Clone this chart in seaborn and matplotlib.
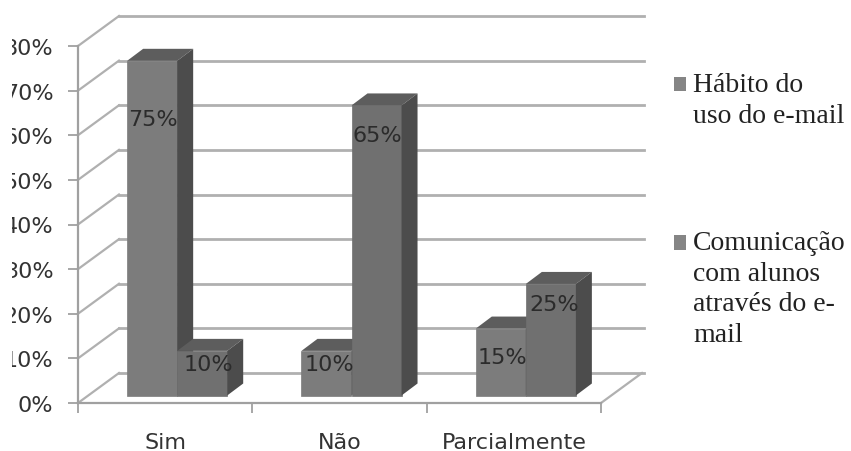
import matplotlib
matplotlib.use("Agg")
import matplotlib.pyplot as plt
import pandas as pd
import seaborn as sns
from matplotlib.patches import Polygon
from matplotlib.transforms import Bbox, IdentityTransform

categorias = ["Sim", "Não", "Parcialmente"]
habito = [75, 10, 15]
comunicacao = [10, 65, 25]
nome_habito = "Hábito do\nuso do e-mail"
nome_comunicacao = "Comunicação\ncom alunos\natravés do e-\nmail"
ticks_y = [0, 10, 20, 30, 40, 50, 60, 70, 80]

# how far each label sits below the bar top / right of its centre, in pixels
desce_rotulo = [[58, 13, 28], [13, 30, 20]]
desvio_rotulo = [[1, 3, 2], [6, 1, 3]]

W, H = 851, 452
X0, X1, Y0, Y1 = 78, 601, 404, 47
fig = plt.figure(figsize=(W / 100, H / 100), dpi=100, facecolor="white")
ax = fig.add_axes([X0 / W, 1 - Y0 / H, (X1 - X0) / W, (Y0 - Y1) / H])

px_x = (X1 - X0) / 3
px_y = (Y0 - Y1) / 80


def dx(p):
    return p / px_x


def dy(p):
    return p / px_y


df = pd.DataFrame({
    "categoria": categorias * 2,
    "valor": habito + comunicacao,
    "serie": [nome_habito] * 3 + [nome_comunicacao] * 3,
})
cor_frente = ["#7c7c7c", "#707070"]
sns.barplot(data=df, x="categoria", y="valor", hue="serie", palette=cor_frente,
            width=0.574, gap=0, saturation=1, ax=ax, zorder=3)

ax.set_xlim(-0.5, 2.5)
ax.set_ylim(0, 80)
ax.set_xlabel("")
ax.set_ylabel("")
ax.patch.set_alpha(0)

# walls and floor
cor_grade = "#b0b0b0"
fundo_x, fundo_y = dx(41), dy(30)
for v in ticks_y:
    ax.plot([-0.5, -0.5 + fundo_x], [v, v + fundo_y], color=cor_grade, lw=1.6, clip_on=False, zorder=1)
    ax.plot([-0.5 + fundo_x, 2.5 + fundo_x + dx(2)], [v + fundo_y] * 2, color=cor_grade, lw=2, clip_on=False, zorder=1)
ax.plot([2.5, 2.5 + fundo_x], [0, fundo_y], color=cor_grade, lw=1.6, clip_on=False, zorder=1)

# bars: move to their depth on the floor, then add top and side faces
bar_x, bar_y = dx(12), dy(7.5)
prof_x, prof_y = dx(16), dy(12)
for s, cont in enumerate(ax.containers):
    for i, p in enumerate(cont.patches):
        p.set_x(p.get_x() + bar_x)
        p.set_y(bar_y)
        p.set_zorder(3 + s)
        p.set_clip_on(False)
        p.set_edgecolor(p.get_facecolor())
        p.set_linewidth(0.5)
        x0, x1 = p.get_x(), p.get_x() + p.get_width()
        y0, y1 = bar_y, bar_y + p.get_height()
        ax.add_patch(Polygon([(x0, y1), (x1, y1), (x1 + prof_x, y1 + prof_y), (x0 + prof_x, y1 + prof_y)],
                             fc="#5d5d5d", ec="none", zorder=3 + s, clip_on=False))
        ax.add_patch(Polygon([(x1, y0), (x1 + prof_x, y0 + prof_y), (x1 + prof_x, y1 + prof_y), (x1, y1)],
                             fc="#4c4c4c", ec="none", zorder=3 + s, clip_on=False))
        ax.text((x0 + x1) / 2 + dx(desvio_rotulo[s][i]), y1 - dy(desce_rotulo[s][i]),
                f"{p.get_height():.0f}%", ha="center", va="center", fontsize=16,
                color="#2b2b2b", zorder=6, clip_on=False)

# axes lines and ticks
sns.despine(ax=ax, top=True, right=True)
for lado in ["left", "bottom"]:
    ax.spines[lado].set_color("#a0a0a0")
    ax.spines[lado].set_linewidth(1.6)
    ax.spines[lado].set_zorder(2)

ax.set_yticks(ticks_y)
ax.set_yticklabels([f"{v}%" for v in ticks_y])
ax.tick_params(axis="y", length=7.2, width=1.3, color="#a0a0a0", pad=10.5,
               labelsize=16, labelcolor="#333333")
ax.set_xticks([-0.5, 0.5, 1.5, 2.5], minor=True)
ax.set_xticks([0, 1, 2])
ax.set_xticklabels(categorias)
ax.tick_params(axis="x", which="major", length=0, pad=21, labelsize=16, labelcolor="#333333")
ax.tick_params(axis="x", which="minor", length=7.2, width=1.3, color="#a0a0a0")

# left edge of the picture cuts the y labels
corte = Bbox([[12, 0], [W, H]])
for t in ax.get_yticklabels():
    t.set_clip_on(True)
    t.set_clip_box(corte.transformed(IdentityTransform()))

sns.move_legend(ax, loc="upper left", bbox_to_anchor=(674 / W, 1 - 73 / H),
                bbox_transform=fig.transFigure, frameon=False, title=None,
                prop={"family": "Liberation Serif", "size": 20},
                handlelength=0.43, handleheight=0.43, handletextpad=0.25,
                labelspacing=3.68, borderpad=0, borderaxespad=0, labelcolor="#222222")
leg = ax.get_legend()
for t in leg.get_texts():
    t.set_linespacing(1.3)
# markers sit beside the first line of each entry
for h, subir in zip(leg.legend_handles, [11, 33]):
    h.set_y(h.get_y() + subir)
    h.set_facecolor("#858585")

fig.savefig("out.png", dpi=100, facecolor="white")
